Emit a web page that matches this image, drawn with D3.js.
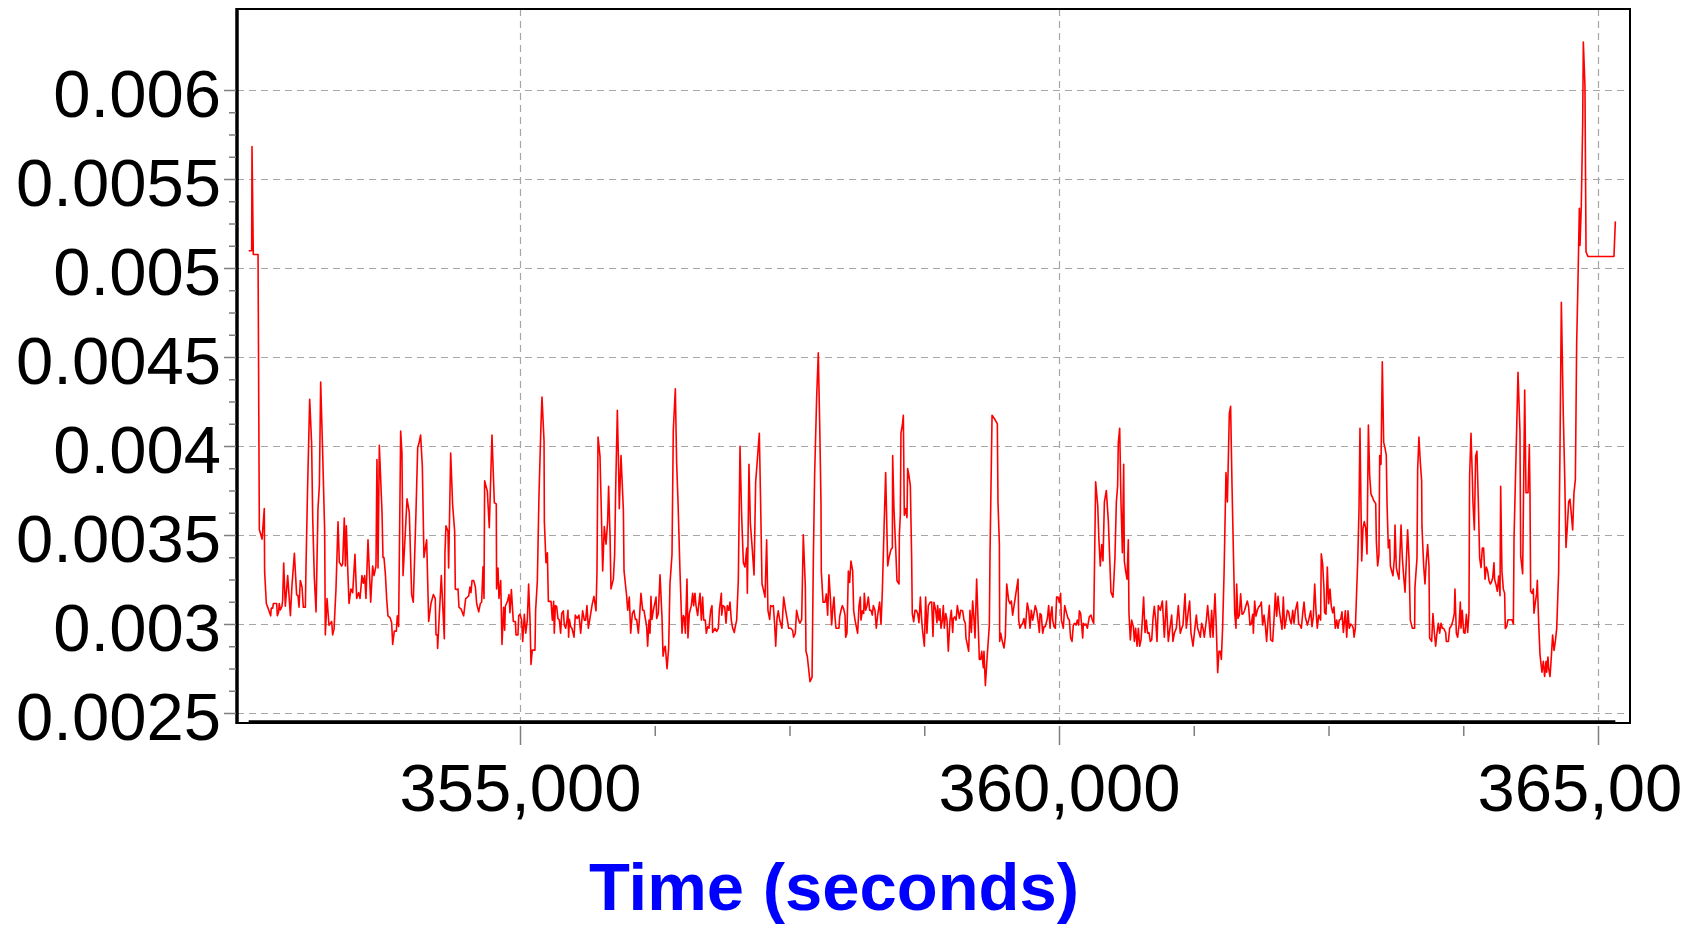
<!DOCTYPE html>
<html><head><meta charset="utf-8">
<script src="https://cdn.jsdelivr.net/npm/d3@7"></script>
<style>body{margin:0;background:#fff}svg{display:block}</style>
</head><body>
<svg id="chart" width="1696" height="925"></svg>
<script>
const xMajorTicks = [355000, 360000, 365000];
const xTickLabels = ["355,000", "360,000", "365,000"];
const xMinorTicks = [356250, 357500, 358750, 361250, 362500, 363750];
const yMajorTicks = [0.0025, 0.003, 0.0035, 0.004, 0.0045, 0.005, 0.0055, 0.006];
const yTickLabels = ["0.0025", "0.003", "0.0035", "0.004", "0.0045", "0.005", "0.0055", "0.006"];
const yMinorTicks = [0.002625, 0.00275, 0.002875, 0.003125, 0.00325, 0.003375, 0.003625, 0.00375, 0.003875,
  0.004125, 0.00425, 0.004375, 0.004625, 0.00475, 0.004875, 0.005125, 0.00525, 0.005375, 0.005625, 0.00575, 0.005875];
const xTitle = "Time (seconds)";

// [time (s), value]
const points = [
[352483,5097e-6],[352511,5097e-6],[352514,5683e-6],[352526,5076e-6],[352570,5076e-6],[352582,3531e-6],[352607,3477e-6],
[352628,3649e-6],[352631,3294e-6],[352647,3115e-6],[352669,3079e-6],[352687,3046e-6],[352693,3089e-6],[352706,3089e-6],
[352712,3115e-6],[352743,3115e-6],[352749,3046e-6],[352761,3068e-6],[352767,3115e-6],[352777,3079e-6],[352792,3100e-6],
[352798,3132e-6],[352808,3343e-6],[352823,3100e-6],[352845,3272e-6],[352870,3046e-6],[352885,3219e-6],[352907,3397e-6],
[352928,3165e-6],[352941,3158e-6],[352950,3094e-6],[352962,3244e-6],[352978,3208e-6],[352990,3094e-6],[353009,3094e-6],
[353015,3326e-6],[353030,3778e-6],[353049,4262e-6],[353067,4015e-6],[353077,3595e-6],[353092,3262e-6],[353108,3068e-6],
[353126,3649e-6],[353139,3778e-6],[353151,4359e-6],[353169,3972e-6],[353188,3520e-6],[353194,2939e-6],[353210,3143e-6],
[353228,2993e-6],[353241,3003e-6],[353253,3014e-6],[353262,2939e-6],[353275,2971e-6],[353293,3197e-6],[353312,3574e-6],
[353324,3348e-6],[353346,3326e-6],[353355,3337e-6],[353370,3595e-6],[353380,3326e-6],[353389,3552e-6],[353401,3326e-6],
[353414,3115e-6],[353432,3197e-6],[353448,3176e-6],[353469,3391e-6],[353485,3143e-6],[353503,3176e-6],[353516,3143e-6],
[353534,3272e-6],[353547,3229e-6],[353559,3272e-6],[353571,3143e-6],[353590,3473e-6],[353615,3122e-6],[353633,3326e-6],
[353646,3272e-6],[353664,3326e-6],[353673,3924e-6],[353683,3315e-6],[353695,4004e-6],[353720,3627e-6],[353729,3374e-6],
[353738,3374e-6],[353751,3283e-6],[353763,3143e-6],[353775,3046e-6],[353794,3036e-6],[353809,3008e-6],[353819,2885e-6],
[353834,2960e-6],[353853,2960e-6],[353862,3046e-6],[353874,2986e-6],[353893,4084e-6],[353905,3961e-6],[353915,3272e-6],
[353933,3477e-6],[353952,3703e-6],[353973,3627e-6],[353995,3165e-6],[354010,3122e-6],[354035,3627e-6],[354051,3993e-6],
[354063,4015e-6],[354078,4062e-6],[354094,3886e-6],[354109,3374e-6],[354134,3473e-6],[354153,3014e-6],[354174,3115e-6],
[354196,3165e-6],[354214,3143e-6],[354221,2939e-6],[354233,2939e-6],[354236,2863e-6],[354270,3272e-6],[354298,2917e-6],
[354304,3401e-6],[354313,3552e-6],[354332,3520e-6],[354338,3315e-6],[354357,3961e-6],[354375,3670e-6],[354394,3520e-6],
[354400,3197e-6],[354412,3193e-6],[354425,3197e-6],[354434,3094e-6],[354453,3085e-6],[354477,3046e-6],[354496,3143e-6],
[354511,3150e-6],[354524,3158e-6],[354536,3208e-6],[354545,3176e-6],[354555,3244e-6],[354570,3244e-6],[354586,3208e-6],
[354598,3115e-6],[354617,3068e-6],[354632,3115e-6],[354644,3122e-6],[354657,3322e-6],[354666,3143e-6],[354672,3804e-6],
[354697,3746e-6],[354715,3541e-6],[354740,4062e-6],[354762,3681e-6],[354780,3675e-6],[354783,3197e-6],[354796,3315e-6],
[354805,3143e-6],[354821,3244e-6],[354833,2885e-6],[354848,3094e-6],[354858,2965e-6],[354864,3100e-6],[354886,3132e-6],
[354898,3165e-6],[354907,3064e-6],[354920,3193e-6],[354938,3014e-6],[354957,3014e-6],[354963,2939e-6],[354981,2939e-6],
[354988,3046e-6],
[355000,3055e-6],[355015,3022e-6],[355025,2902e-6],[355040,3055e-6],[355053,2948e-6],[355068,3022e-6],[355080,3225e-6],
[355093,3022e-6],[355102,2773e-6],[355114,2853e-6],[355139,2853e-6],[355145,3077e-6],[355161,3243e-6],[355176,3722e-6],
[355195,4127e-6],[355204,4275e-6],[355223,4026e-6],[355226,3575e-6],[355241,3344e-6],[355254,3400e-6],[355263,3127e-6],
[355288,3127e-6],[355300,3022e-6],[355312,3127e-6],[355318,2948e-6],[355328,3103e-6],[355340,3099e-6],[355352,3031e-6],
[355365,3022e-6],[355377,2948e-6],[355387,3059e-6],[355402,3074e-6],[355411,2994e-6],[355424,2976e-6],[355436,3022e-6],
[355445,3077e-6],[355451,2926e-6],[355458,3026e-6],[355470,2985e-6],[355482,2976e-6],[355501,2926e-6],[355513,3050e-6],
[355529,3031e-6],[355547,3050e-6],[355563,2948e-6],[355581,3074e-6],[355597,3022e-6],[355609,3022e-6],[355621,3103e-6],
[355634,2976e-6],[355649,3031e-6],[355668,3105e-6],[355686,3155e-6],[355705,3074e-6],[355714,3289e-6],[355724,4050e-6],
[355742,3943e-6],[355754,3648e-6],[355767,3298e-6],[355782,3547e-6],[355798,3449e-6],[355813,3575e-6],[355822,3774e-6],
[355835,3501e-6],[355844,3197e-6],[355866,3252e-6],[355878,3390e-6],[355887,3740e-6],[355903,4201e-6],[355915,3869e-6],
[355921,3648e-6],[355937,3947e-6],[355959,3639e-6],[355965,3298e-6],[355989,3160e-6],[355999,3077e-6],[356014,3151e-6],
[356027,2948e-6],[356042,3059e-6],[356057,3077e-6],[356070,3026e-6],[356082,3026e-6],[356098,2948e-6],[356107,3022e-6],
[356122,3173e-6],[356138,3077e-6],[356150,3077e-6],[356175,2985e-6],[356184,2875e-6],[356197,3022e-6],[356206,2948e-6],
[356215,3155e-6],[356224,3026e-6],[356237,3077e-6],[356262,3151e-6],[356268,3031e-6],[356283,3059e-6],[356299,3276e-6],
[356317,3040e-6],[356327,2819e-6],[356339,2865e-6],[356348,2875e-6],[356364,2749e-6],[356379,2865e-6],[356391,3225e-6],
[356410,3390e-6],[356422,4090e-6],[356441,4321e-6],[356453,3906e-6],[356466,3685e-6],[356484,3298e-6],[356503,2948e-6],
[356515,3048e-6],[356524,3037e-6],[356534,2948e-6],[356549,3252e-6],[356558,2921e-6],[356571,3059e-6],[356589,3103e-6],
[356602,3173e-6],[356611,3103e-6],[356623,3173e-6],[356633,3103e-6],[356648,3048e-6],[356657,3103e-6],[356670,3173e-6],
[356682,3022e-6],[356694,3151e-6],[356704,3022e-6],[356719,3022e-6],[356728,2948e-6],[356741,2985e-6],[356753,2976e-6],
[356769,3077e-6],[356781,3103e-6],[356787,2952e-6],[356809,2976e-6],[356824,2958e-6],[356840,2976e-6],[356849,3077e-6],
[356868,3173e-6],[356871,3050e-6],[356883,3103e-6],[356899,3096e-6],[356911,3004e-6],[356923,3103e-6],[356936,3077e-6],
[356948,3123e-6],[356960,3022e-6],[356973,2976e-6],[356988,2952e-6],[356994,2976e-6],[357010,3022e-6],[357025,3243e-6],
[357041,3998e-6],[357056,3611e-6],[357072,3344e-6],[357087,3320e-6],[357103,3427e-6],[357109,3173e-6],[357124,3897e-6],
[357137,3565e-6],[357155,3418e-6],[357171,3276e-6],[357186,3796e-6],[357202,3925e-6],[357220,4072e-6],[357232,3685e-6],
[357245,3225e-6],[357260,3188e-6],[357273,3151e-6],[357288,3473e-6],[357300,3077e-6],[357316,3026e-6],[357325,3103e-6],
[357338,3099e-6],[357350,3103e-6],[357362,3000e-6],[357372,2875e-6],[357384,3031e-6],[357396,3074e-6],[357409,3022e-6],
[357430,2976e-6],[357446,3151e-6],[357464,3077e-6],[357480,3022e-6],[357492,2976e-6],[357511,2976e-6],[357529,2963e-6],
[357538,2926e-6],[357554,2948e-6],[357566,3077e-6],[357585,3022e-6],[357597,3004e-6],[357613,3026e-6],[357628,3501e-6],
[357647,3206e-6],[357653,2847e-6],[357665,2819e-6],[357678,2746e-6],[357690,2676e-6],[357709,2700e-6],[357721,3354e-6],
[357733,3833e-6],[357752,4275e-6],[357767,4523e-6],
[357780,4127e-6],[357792,3685e-6],[357795,3298e-6],[357811,3123e-6],[357829,3123e-6],[357842,3169e-6],[357854,3050e-6],
[357866,3276e-6],[357879,3151e-6],[357891,2994e-6],[357903,3096e-6],[357913,3151e-6],[357922,3040e-6],[357931,2976e-6],
[357959,2976e-6],[357965,3040e-6],[357978,3077e-6],[357990,3103e-6],[358002,3086e-6],[358015,3050e-6],[358021,2926e-6],
[358033,2948e-6],[358046,3298e-6],[358058,3234e-6],[358070,3354e-6],[358086,3298e-6],[358095,3077e-6],[358108,3022e-6],
[358132,2948e-6],[358145,3103e-6],[358157,3151e-6],[358163,3022e-6],[358176,3074e-6],[358188,3059e-6],[358194,3173e-6],
[358206,3077e-6],[358219,3103e-6],[358231,3151e-6],[358244,3077e-6],[358256,3077e-6],[358268,3050e-6],[358278,3103e-6],
[358293,3077e-6],[358305,2976e-6],[358318,3050e-6],[358336,3123e-6],[358349,2998e-6],[358361,3179e-6],[358377,3538e-6],
[358392,3851e-6],[358411,3326e-6],[358423,3372e-6],[358441,3418e-6],[358454,3427e-6],[358457,3947e-6],[358469,3648e-6],
[358485,3427e-6],[358497,3243e-6],[358516,3225e-6],[358519,3501e-6],[358528,3611e-6],[358534,4072e-6],[358547,4118e-6],
[358556,4173e-6],[358565,3611e-6],[358578,3648e-6],[358590,3597e-6],[358596,3873e-6],[358608,3833e-6],[358621,3777e-6],
[358633,3372e-6],[358639,3059e-6],[358652,3013e-6],[358664,3077e-6],[358676,3077e-6],[358689,3059e-6],[358701,3007e-6],
[358714,3151e-6],[358726,3022e-6],[358735,2958e-6],[358751,2875e-6],[358763,3151e-6],[358775,2948e-6],[358788,3103e-6],
[358806,3123e-6],[358819,3123e-6],[358831,2930e-6],[358840,3122e-6],[358856,3077e-6],[358868,3007e-6],[358874,3103e-6],
[358887,3022e-6],[358896,3086e-6],[358905,2976e-6],[358918,3022e-6],[358927,3103e-6],[358936,2976e-6],[358949,3059e-6],
[358961,3022e-6],[358973,2847e-6],[358989,3022e-6],
[359001,3077e-6],[359014,2952e-6],[359020,3031e-6],[359032,3040e-6],[359045,3022e-6],[359057,3103e-6],[359076,3031e-6],
[359088,3077e-6],[359106,3074e-6],[359119,3022e-6],[359131,3004e-6],[359137,2921e-6],[359150,2884e-6],[359162,2847e-6],
[359174,3077e-6],[359187,2952e-6],[359199,3129e-6],[359212,3022e-6],[359221,2921e-6],[359236,3252e-6],[359249,3022e-6],
[359261,2801e-6],[359273,2801e-6],[359283,2847e-6],[359298,2755e-6],[359304,2847e-6],[359317,2654e-6],[359335,2829e-6],
[359354,2994e-6],[359360,3390e-6],[359379,4173e-6],[359409,4146e-6],[359428,4124e-6],[359434,3685e-6],[359447,3446e-6],
[359450,2902e-6],[359459,2948e-6],[359471,2911e-6],[359490,2865e-6],[359502,2930e-6],[359515,3225e-6],[359533,3133e-6],
[359546,3114e-6],[359558,3129e-6],[359570,3050e-6],[359595,3151e-6],[359620,3252e-6],[359626,3022e-6],[359638,2976e-6],
[359651,2994e-6],[359663,3004e-6],[359675,3031e-6],[359688,2976e-6],[359706,3118e-6],[359719,3077e-6],[359731,2976e-6],
[359743,3077e-6],[359756,3022e-6],[359768,3059e-6],[359780,3103e-6],[359793,3074e-6],[359805,3022e-6],[359818,2952e-6],
[359824,3059e-6],[359836,3050e-6],[359849,2948e-6],[359861,2985e-6],[359873,2985e-6],[359892,3031e-6],[359904,3103e-6],
[359917,2976e-6],[359923,3050e-6],[359935,3096e-6],[359941,3022e-6],[359954,2985e-6],[359966,2976e-6],[359978,3151e-6],
[359991,3151e-6],[360003,3122e-6],[360015,3173e-6],[360022,3022e-6],[360040,2976e-6],[360053,3103e-6],[360071,3059e-6],
[360084,3031e-6],[360096,3022e-6],[360108,2921e-6],[360121,2902e-6],[360133,2994e-6],[360145,3004e-6],[360158,2994e-6],
[360170,3022e-6],[360182,2994e-6],[360189,3074e-6],[360201,3059e-6],[360220,2921e-6],[360226,3004e-6],[360238,2994e-6],
[360251,3000e-6],[360263,2976e-6],[360281,3040e-6],
[360297,3050e-6],[360309,3022e-6],[360322,3004e-6],[360340,3799e-6],[360359,3667e-6],[360371,3464e-6],[360383,3326e-6],
[360396,3446e-6],[360408,3354e-6],[360421,3685e-6],[360439,3750e-6],[360458,3575e-6],[360470,3376e-6],[360482,3179e-6],
[360501,3151e-6],[360519,3372e-6],[360532,3685e-6],[360544,3777e-6],[360550,4017e-6],[360563,4100e-6],[360575,3685e-6],
[360588,3400e-6],[360600,3897e-6],[360606,3354e-6],[360618,3298e-6],[360631,3252e-6],[360643,3473e-6],[360649,3059e-6],
[360662,2911e-6],[360674,3022e-6],[360690,2985e-6],[360699,2902e-6],[360711,2976e-6],[360724,2875e-6],[360736,2976e-6],
[360748,2875e-6],[360761,2911e-6],[360773,3022e-6],[360785,3151e-6],[360798,2952e-6],[360810,3022e-6],[360822,2948e-6],
[360835,2952e-6],[360847,2902e-6],[360860,2911e-6],[360872,3031e-6],[360884,3099e-6],[360897,3022e-6],[360909,2902e-6],
[360921,3103e-6],[360940,3077e-6],[360959,3129e-6],[360977,2926e-6],[360996,3129e-6],[361014,2902e-6],[361027,2967e-6],
[361045,3050e-6],[361057,2902e-6],[361070,2948e-6],[361088,2976e-6],[361107,3103e-6],[361125,2948e-6],[361138,2976e-6],
[361150,2994e-6],[361169,3169e-6],[361181,2976e-6],[361200,3077e-6],[361212,3129e-6],[361224,2952e-6],[361243,2875e-6],
[361262,2985e-6],[361274,3050e-6],[361286,2976e-6],[361299,2952e-6],[361311,2926e-6],[361323,3004e-6],[361336,2976e-6],
[361348,2926e-6],[361367,3022e-6],[361379,3103e-6],[361391,3022e-6],[361404,2926e-6],[361416,3077e-6],[361429,2926e-6],
[361435,3022e-6],[361447,3169e-6],[361459,2985e-6],[361472,2727e-6],[361484,2847e-6],[361497,2847e-6],
[361506,2801e-6],[361518,2985e-6],[361531,3280e-6],[361549,3851e-6],[361562,3685e-6],[361580,4183e-6],[361592,4223e-6],
[361605,3777e-6],[361617,3427e-6],[361630,3059e-6],[361642,2976e-6],[361648,3225e-6],[361660,3031e-6],[361673,3050e-6],
[361685,3169e-6],[361698,3055e-6],[361710,3059e-6],[361722,3077e-6],[361735,3105e-6],[361747,3129e-6],[361759,3096e-6],
[361772,2994e-6],[361784,3000e-6],[361797,3055e-6],[361803,2948e-6],[361815,3129e-6],[361827,3044e-6],[361840,3077e-6],
[361852,3096e-6],[361865,3103e-6],[361877,3123e-6],[361889,2994e-6],[361902,3050e-6],[361914,2994e-6],[361926,2902e-6],
[361939,3022e-6],[361951,3105e-6],[361964,2911e-6],[361982,2902e-6],[361994,3022e-6],[362007,3173e-6],[362019,3044e-6],
[362032,3155e-6],[362044,3077e-6],[362056,3022e-6],[362069,2970e-6],[362081,3151e-6],[362093,2976e-6],[362106,3022e-6],
[362118,3077e-6],[362130,3068e-6],[362143,3022e-6],[362155,3000e-6],[362168,3077e-6],[362180,3004e-6],[362192,3074e-6],
[362211,3123e-6],[362223,3000e-6],[362236,2994e-6],[362248,2976e-6],[362260,3055e-6],[362273,3123e-6],[362285,3040e-6],
[362304,2994e-6],[362316,3022e-6],[362335,3074e-6],[362347,2985e-6],[362359,3040e-6],[362372,3225e-6],[362384,3074e-6],
[362396,2976e-6],[362409,3050e-6],[362427,3022e-6],[362433,3394e-6],[362446,3335e-6],[362458,3197e-6],[362464,3063e-6],
[362477,3055e-6],[362489,3320e-6],[362501,3114e-6],[362514,3197e-6],[362526,3099e-6],[362539,3063e-6],[362551,3096e-6],
[362563,2976e-6],[362576,3022e-6],[362588,2976e-6],[362600,3022e-6],[362613,3026e-6],[362625,3068e-6],[362638,2952e-6],
[362656,3074e-6],[362669,2926e-6],[362681,3074e-6],[362693,2976e-6],[362706,3000e-6],[362718,2994e-6],[362730,2976e-6],
[362737,2926e-6],[362749,2976e-6],
[362771,3354e-6],[362783,3648e-6],[362792,4100e-6],[362808,3354e-6],[362820,3538e-6],[362832,3575e-6],[362845,3538e-6],
[362857,3394e-6],[362870,4118e-6],[362882,3833e-6],[362894,3731e-6],[362907,3713e-6],[362919,3694e-6],[362938,3676e-6],
[362944,3464e-6],[362956,3326e-6],[362968,3390e-6],[362975,3947e-6],[362987,3897e-6],[362999,4473e-6],[363012,4020e-6],
[363024,3989e-6],[363036,3947e-6],[363043,3676e-6],[363055,3427e-6],[363067,3473e-6],[363074,3326e-6],[363086,3298e-6],
[363098,3271e-6],[363111,3372e-6],[363117,3556e-6],[363129,3317e-6],[363142,3280e-6],[363154,3252e-6],[363173,3556e-6],
[363185,3372e-6],[363197,3271e-6],[363210,3179e-6],[363222,3354e-6],[363234,3529e-6],[363247,3363e-6],[363259,3022e-6],
[363278,2976e-6],[363299,2976e-6],[363302,3206e-6],[363321,3372e-6],[363327,3869e-6],[363339,4050e-6],[363352,3906e-6],
[363364,3805e-6],[363367,3547e-6],[363383,3326e-6],[363395,3225e-6],[363407,3354e-6],[363420,3446e-6],[363432,3326e-6],
[363438,2921e-6],[363457,2902e-6],[363469,3059e-6],[363482,2952e-6],[363494,2875e-6],[363506,2948e-6],[363519,3004e-6],
[363531,2948e-6],[363544,3004e-6],[363556,2976e-6],[363568,2976e-6],[363587,2952e-6],[363593,2902e-6],[363612,2902e-6],
[363624,2976e-6],[363643,2994e-6],[363655,3022e-6],[363667,3059e-6],[363673,3197e-6],[363686,2948e-6],[363698,2926e-6],
[363711,2994e-6],[363723,3123e-6],[363729,2976e-6],[363741,3077e-6],[363754,2952e-6],[363766,2948e-6],[363779,3055e-6],
[363791,2952e-6],[363803,3059e-6],[363809,3833e-6],[363822,4072e-6],[363834,3833e-6],[363840,3685e-6],[363853,3529e-6],
[363865,3943e-6],[363877,3971e-6],[363890,3685e-6],[363902,3372e-6],[363915,3317e-6],[363927,3427e-6],[363939,3427e-6],
[363952,3252e-6],[363964,3320e-6],[363976,3298e-6],[363989,3243e-6],[364001,3225e-6],
[364010,3233e-6],[364023,3258e-6],[364035,3344e-6],[364041,3250e-6],[364054,3221e-6],[364066,3184e-6],[364079,3270e-6],
[364091,3159e-6],[364097,3774e-6],[364109,3295e-6],[364122,3196e-6],[364134,3172e-6],[364140,2975e-6],[364153,2987e-6],
[364165,3024e-6],[364202,3024e-6],[364215,3000e-6],[364221,3479e-6],[364239,3934e-6],[364258,4414e-6],[364276,4082e-6],
[364283,3381e-6],[364301,3282e-6],[364320,4315e-6],[364332,3737e-6],[364351,3737e-6],[364363,4008e-6],[364369,3737e-6],
[364375,3184e-6],[364388,3172e-6],[364400,3196e-6],[364406,3061e-6],[364419,3123e-6],[364431,3172e-6],[364437,3246e-6],
[364450,3000e-6],[364462,2828e-6],[364480,2729e-6],[364493,2791e-6],[364505,2705e-6],[364518,2791e-6],[364524,2729e-6],
[364536,2815e-6],[364542,2754e-6],[364555,2705e-6],[364567,2815e-6],[364579,2938e-6],[364592,2852e-6],[364604,2901e-6],
[364617,2975e-6],[364635,3295e-6],[364647,3959e-6],[364660,4807e-6],[364678,4180e-6],[364691,3836e-6],[364703,3430e-6],
[364715,3541e-6],[364728,3688e-6],[364740,3701e-6],[364753,3614e-6],[364765,3528e-6],[364777,3737e-6],[364790,3811e-6],
[364802,4573e-6],[364814,4918e-6],[364827,5336e-6],[364833,5127e-6],[364845,5348e-6],[364858,5815e-6],[364864,6270e-6],
[364879,6024e-6],[364889,5090e-6],[364907,5065e-6],[365148,5065e-6],[365161,5262e-6]
];

const W = 1696, H = 925;
const frame = {left: 237, right: 1630, top: 9, bottom: 723};
const FONT = "'Liberation Sans', Arial, Helvetica, sans-serif";

const svg = d3.select("#chart");
svg.append("rect").attr("width", W).attr("height", H).attr("fill", "#fff");

const x = d3.scaleLinear().domain([355000, 365000]).range([520, 1598]);
const y = d3.scaleLinear().domain([0.0025, 0.006]).range([713, 90]);

// grid
const grid = svg.append("g").attr("stroke", "#a6a6a6").attr("stroke-width", 1.2).attr("stroke-dasharray", "7,5");
grid.selectAll("line.h").data(yMajorTicks).join("line").attr("class", "h")
  .attr("x1", frame.left).attr("x2", frame.right)
  .attr("y1", d => Math.round(y(d)) + 0.5).attr("y2", d => Math.round(y(d)) + 0.5);
grid.selectAll("line.v").data(xMajorTicks).join("line").attr("class", "v")
  .attr("x1", d => Math.round(x(d)) + 0.5).attr("x2", d => Math.round(x(d)) + 0.5)
  .attr("y1", frame.top).attr("y2", frame.bottom);

// data line
const line = d3.line().x(d => x(d[0])).y(d => y(d[1]));
svg.append("path").datum(points)
  .attr("fill", "none").attr("stroke", "#ff0000").attr("stroke-width", 1.6)
  .attr("stroke-linejoin", "round").attr("d", line);

// frame
svg.append("rect").attr("x", frame.left).attr("y", frame.top)
  .attr("width", frame.right - frame.left).attr("height", frame.bottom - frame.top)
  .attr("fill", "none").attr("stroke", "#000").attr("stroke-width", 2);
svg.append("line").attr("x1", frame.left).attr("x2", frame.left)
  .attr("y1", frame.top - 1).attr("y2", frame.bottom + 1)
  .attr("stroke", "#000").attr("stroke-width", 3.5);
svg.append("line")
  .attr("x1", x(points[0][0])).attr("x2", x(points[points.length - 1][0]))
  .attr("y1", 722).attr("y2", 722).attr("stroke", "#000").attr("stroke-width", 3.5);

// y axis
const yAxisG = svg.append("g").attr("transform", `translate(${frame.left - 1},0)`)
  .call(d3.axisLeft(y).tickValues(yMajorTicks).tickSize(12).tickPadding(3)
    .tickFormat((d, i) => yTickLabels[i]));
const yMinorG = svg.append("g").attr("transform", `translate(${frame.left - 1},0)`)
  .call(d3.axisLeft(y).tickValues(yMinorTicks).tickSize(7).tickFormat(""));
[yAxisG, yMinorG].forEach(g => {
  g.select(".domain").remove();
  g.selectAll(".tick line").attr("stroke", "#7f7f7f").attr("stroke-width", 1.5);
});
yAxisG.selectAll(".tick text").attr("dy", "0.4em")
  .attr("font-family", FONT).attr("font-size", 67).attr("fill", "#000");

// x axis
svg.append("defs").append("clipPath").attr("id", "xclip")
  .append("rect").attr("x", 0).attr("y", 0).attr("width", 1684).attr("height", H);
const xAxisG = svg.append("g").attr("transform", "translate(0,726)").attr("clip-path", "url(#xclip)")
  .call(d3.axisBottom(x).tickValues(xMajorTicks).tickSize(19).tickPadding(18)
    .tickFormat((d, i) => xTickLabels[i]));
const xMinorG = svg.append("g").attr("transform", "translate(0,726)")
  .call(d3.axisBottom(x).tickValues(xMinorTicks).tickSize(10).tickFormat(""));
[xAxisG, xMinorG].forEach(g => {
  g.select(".domain").remove();
  g.selectAll(".tick line").attr("stroke", "#7f7f7f").attr("stroke-width", 1.5);
});
xAxisG.selectAll(".tick text")
  .attr("font-family", FONT).attr("font-size", 67).attr("fill", "#000");

// x title
svg.append("text").attr("x", 834).attr("y", 910).attr("text-anchor", "middle")
  .attr("font-family", FONT).attr("font-weight", "bold").attr("font-size", 67)
  .attr("fill", "#0000ff").text(xTitle);
</script>
</body></html>
